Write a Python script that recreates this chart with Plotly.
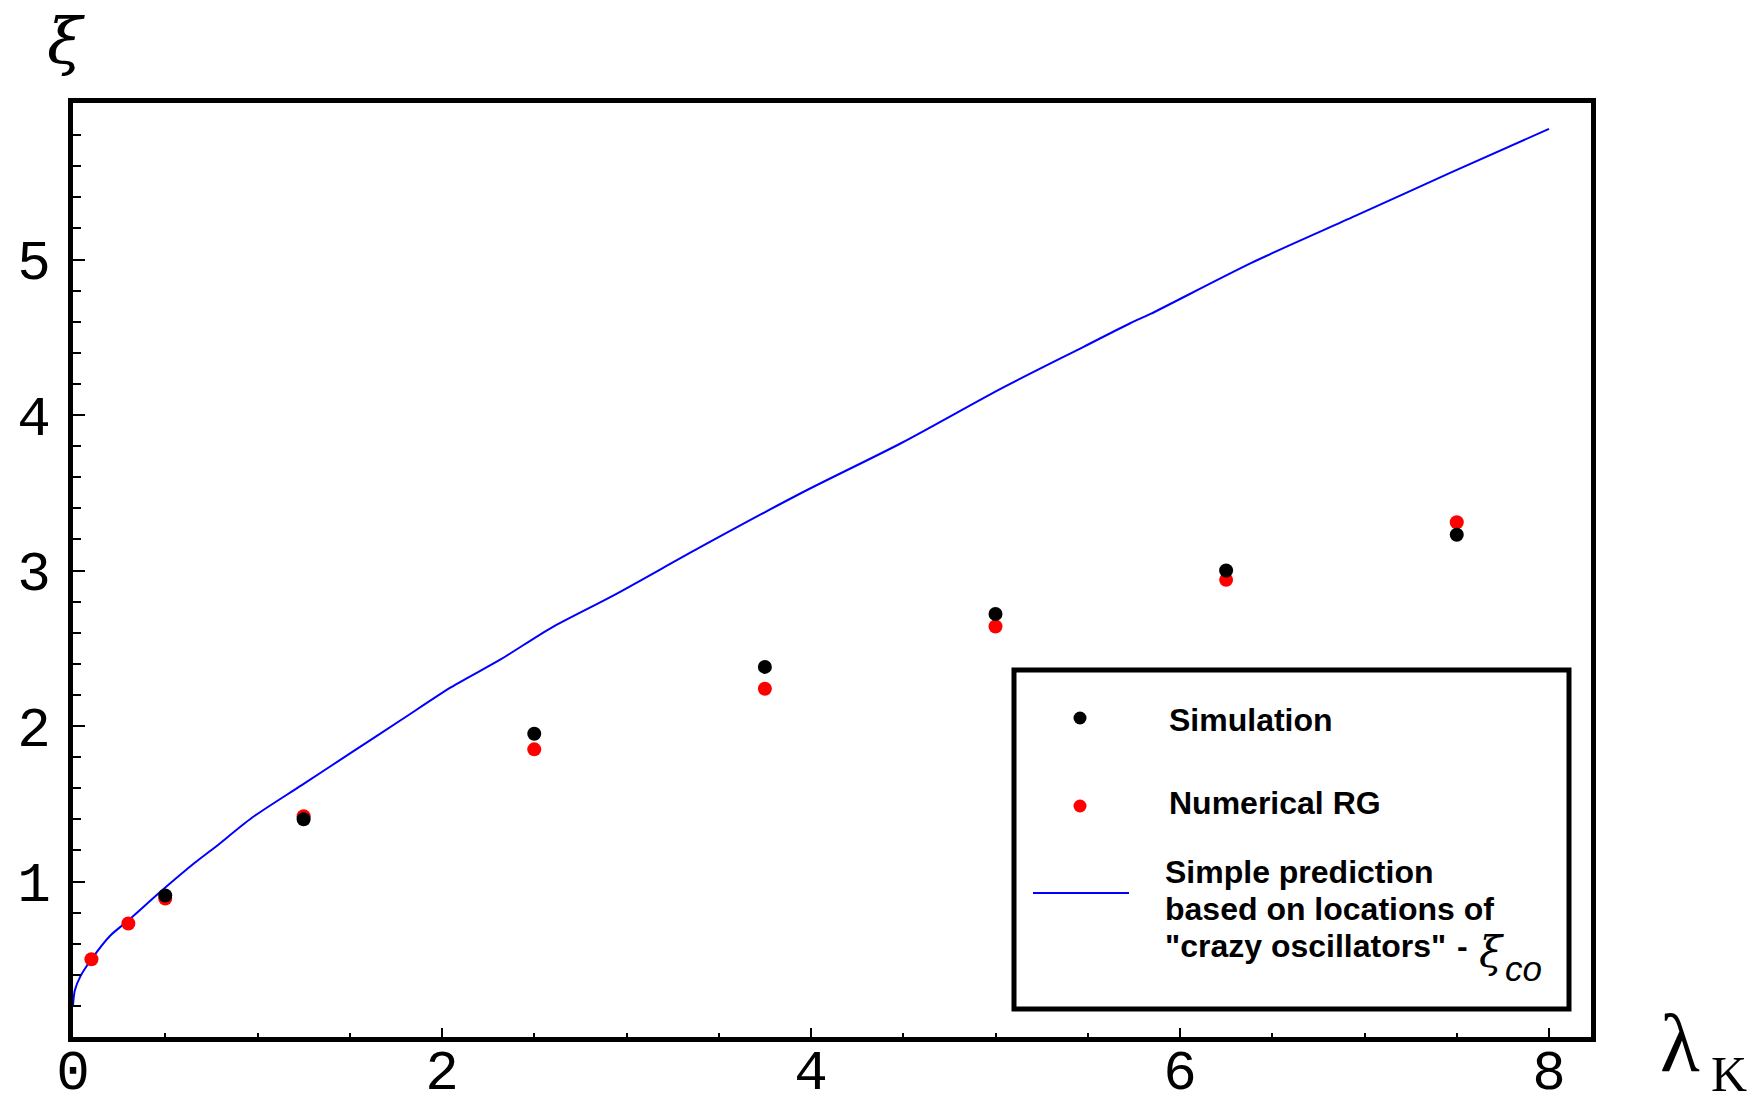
import plotly.graph_objects as go

# ---- data ----
sim_x = [0.5, 1.25, 2.5, 3.75, 5.0, 6.25, 7.5]
sim_y = [0.91, 1.40, 1.95, 2.38, 2.72, 3.00, 3.23]

rg_x = [0.1, 0.3, 0.5, 1.25, 2.5, 3.75, 5.0, 6.25, 7.5]
rg_y = [0.50, 0.73, 0.89, 1.42, 1.85, 2.24, 2.64, 2.94, 3.31]

pred_x = [0.0, 0.01, 0.04, 0.1, 0.2, 0.3, 0.48, 0.66, 0.77, 0.97, 1.24, 1.51, 1.78,
          2.05, 2.32, 2.59, 2.93, 3.40, 3.95, 4.49, 5.03, 5.48, 5.73, 5.84, 6.39,
          6.95, 7.47, 8.0]
pred_y = [0.20, 0.30, 0.39, 0.50, 0.65, 0.75, 0.94, 1.12, 1.22, 1.41, 1.62, 1.83, 2.04,
          2.25, 2.43, 2.63, 2.84, 3.15, 3.50, 3.82, 4.17, 4.44, 4.59, 4.65, 4.98,
          5.28, 5.56, 5.84]

x_ticks = [0, 2, 4, 6, 8]
y_ticks = [1, 2, 3, 4, 5]

# ---- layout geometry (pixels) ----
WIDTH, HEIGHT = 1760, 1109
L, R, T, B = 73, 1591, 103, 1037
XMAX = (R - L) / 184.5
YMAX = (B - T) / 155.5


def px(x):
    return (x - L) / (R - L)


def py(y):
    return (B - y) / (B - T)


fig = go.Figure()
fig.add_trace(go.Scatter(x=pred_x, y=pred_y, mode="lines",
                         line=dict(color="#0000FF", width=2, shape="spline", smoothing=0.8),
                         name="Simple prediction based on locations of \"crazy oscillators\" - ξco",
                         showlegend=False))
fig.add_trace(go.Scatter(x=rg_x, y=rg_y, mode="markers",
                         marker=dict(color="#FF0000", size=14),
                         name="Numerical RG", showlegend=False))
fig.add_trace(go.Scatter(x=sim_x, y=sim_y, mode="markers",
                         marker=dict(color="#000000", size=14),
                         name="Simulation", showlegend=False))

tickfont = dict(family="Liberation Mono", size=56, color="black")

fig.update_xaxes(range=[0, XMAX], showline=True, linewidth=5, linecolor="black",
                 mirror=True, showgrid=False, zeroline=False, automargin=False,
                 tickmode="array", tickvals=x_ticks,
                 ticks="inside", ticklen=9, tickwidth=2, tickcolor="black",
                 tickfont=tickfont, ticklabelstandoff=-20,
                 minor=dict(tickmode="linear", tick0=0, dtick=0.5, ticks="inside",
                            ticklen=4, tickwidth=2, tickcolor="black", showgrid=False))
fig.update_yaxes(range=[0, YMAX], showline=True, linewidth=5, linecolor="black",
                 mirror=True, showgrid=False, zeroline=False, automargin=False,
                 tickmode="array", tickvals=y_ticks,
                 ticks="inside", ticklen=12, tickwidth=2, tickcolor="black",
                 tickfont=tickfont, ticklabelstandoff=6,
                 minor=dict(tickmode="linear", tick0=0, dtick=0.2, ticks="inside",
                            ticklen=8, tickwidth=2, tickcolor="black", showgrid=False))

shapes = [
    dict(type="rect", xref="paper", yref="paper",
         x0=px(1014), x1=px(1569), y0=py(1009), y1=py(670),
         line=dict(color="black", width=5), fillcolor="white", layer="above"),
    dict(type="circle", xref="paper", yref="paper",
         x0=px(1073.5), x1=px(1086.5), y0=py(724.5), y1=py(711.5),
         line=dict(width=0), fillcolor="black", layer="above"),
    dict(type="circle", xref="paper", yref="paper",
         x0=px(1073.5), x1=px(1086.5), y0=py(812.5), y1=py(799.5),
         line=dict(width=0), fillcolor="#FF0000", layer="above"),
    dict(type="line", xref="paper", yref="paper",
         x0=px(1033), x1=px(1129), y0=py(893), y1=py(893),
         line=dict(color="#0000FF", width=2), layer="above"),
]

lfont = dict(family="Liberation Sans", size=32, color="black", weight="bold")


def ann(text, x, y, font, xanchor="left", yanchor="middle"):
    return dict(text=text, x=px(x), y=py(y), xref="paper", yref="paper",
                xanchor=xanchor, yanchor=yanchor, showarrow=False, font=font)


annotations = [
    ann("Simulation", 1167, 720, lfont),
    ann("Numerical RG", 1167, 803, lfont),
    ann("Simple prediction", 1163, 872, lfont),
    ann("based on locations of", 1163, 909, lfont),
    ann("\"crazy oscillators\"", 1163, 946, lfont),
    ann("-", 1462, 946, lfont, xanchor="center"),
    ann("<i>ξ</i>", 1491, 952, dict(family="DejaVu Serif", size=42, color="black"),
        xanchor="center"),
    ann("<i>co</i>", 1503, 968, dict(family="Liberation Sans", size=35, color="black")),
    # axis titles
    ann("<i>ξ</i>", 66, 41, dict(family="DejaVu Serif", size=64, color="black"),
        xanchor="center"),
    ann("λ", 1680, 1043, dict(family="Liberation Serif", size=82, color="black"),
        xanchor="center"),
    ann("K", 1729, 1074, dict(family="Liberation Serif", size=50, color="black"),
        xanchor="center"),
]

fig.update_layout(width=WIDTH, height=HEIGHT,
                  margin=dict(l=L, r=WIDTH - R, t=T, b=HEIGHT - B, pad=0, autoexpand=False),
                  plot_bgcolor="white", paper_bgcolor="white",
                  showlegend=False, shapes=shapes, annotations=annotations)

fig.write_html("out.html", config={"displayModeBar": False},
               post_script="document.body.style.margin='0px';document.body.style.overflow='hidden';")
